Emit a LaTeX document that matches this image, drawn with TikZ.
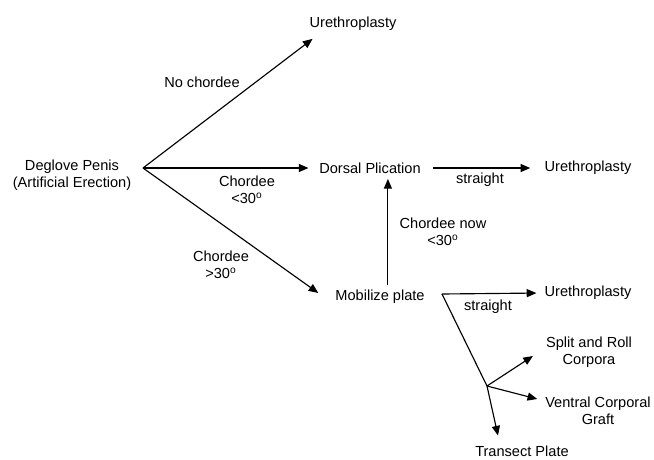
\documentclass[tikz,border=0pt]{standalone}
\usepackage{fontspec}
\setmainfont{Liberation Sans}
\usetikzlibrary{arrows.meta}

\tikzset{
    txt/.style={inner sep=1pt, align=center, font=\fontsize{8.3}{9.4}\selectfont},
    arr/.style={-{Triangle[length=5.5pt,width=4.6pt]}, line width=0.65pt},
    seg/.style={line width=0.65pt}
}

\begin{document}
\begin{tikzpicture}[x=0.02cm, y=-0.02cm]
    \useasboundingbox (0,0) rectangle (654,460);

% boxes of the chart
\node[txt] (deglove) at (72,175) {Deglove Penis\\(Artificial Erection)};
\node[txt] (ure1) at (353,24) {Urethroplasty};
\node[txt] (dorsal) at (370,168) {Dorsal Plication};
\node[txt] (ure2) at (588,168) {Urethroplasty};
\node[txt] (mobil) at (380,297) {Mobilize plate};
\node[txt] (ure3) at (588,293) {Urethroplasty};
\node[txt] (split) at (589,352) {Split and Roll\\Corpora};
\node[txt] (ventral) at (598,411) {Ventral Corporal\\Graft};
\node[txt] (transect) at (522,451) {Transect Plate};

% branch points
\coordinate (hub) at (143,168);
\coordinate (bend) at (442,294);
\coordinate (fork) at (487,386);

% labels on the arrows
\node[txt] (l1) at (202,82) {No chordee};
\node[txt] (l2) at (247,190) {Chordee\\<30\textsuperscript{o}};
\node[txt] (l3) at (221,265) {Chordee\\>30\textsuperscript{o}};
\node[txt] (l4) at (480,180) {straight};
\node[txt] (l5) at (443,232) {Chordee now\\<30\textsuperscript{o}};
\node[txt] (l6) at (488,307) {straight};

% arrows
\draw[arr] (hub) -- ([shift={(5,6)}]ure1.south west);
\draw[arr, shorten >=5pt] (hub) -- (dorsal.west);
\draw[arr] (hub) -- ([shift={(-15,-4)}]mobil.west);
\draw[arr, shorten <=6pt, shorten >=7pt] (dorsal) -- (ure2);
\draw[arr, shorten <=2pt, shorten >=2pt] ([xshift=4.5pt]mobil.north) -- ([xshift=4.5pt]mobil.north |- dorsal.south);
\draw[arr, shorten >=3.5pt] (bend) -- (ure3.west);
\draw[seg] (bend) -- (fork);
\draw[arr] (fork) -- ([shift={(-11,4)}]split.west);
\draw[arr] (fork) -- ([shift={(-6,-12)}]ventral.west);
\draw[arr] (fork) -- ([shift={(-24,-8)}]transect.north);
\end{tikzpicture}
\end{document}
